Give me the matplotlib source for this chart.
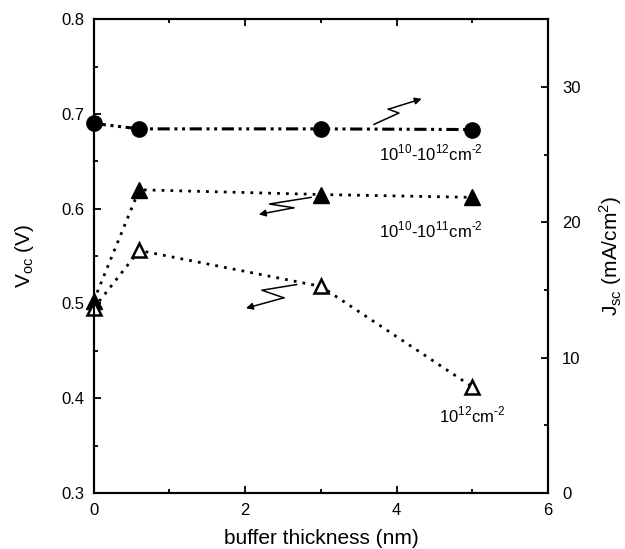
import matplotlib
matplotlib.use("Agg")
import matplotlib.pyplot as plt
from matplotlib.ticker import MultipleLocator

plt.rcParams['font.family'] = ['Liberation Sans', 'DejaVu Sans']
plt.rcParams['mathtext.fontset'] = 'custom'
plt.rcParams['mathtext.rm'] = 'Liberation Sans'

x = [0, 0.6, 3, 5]
jsc_all = [27.3, 26.9, 26.9, 26.85]          # circles, right axis (mA/cm2)
voc_low = [0.503, 0.620, 0.615, 0.612]       # filled triangles, 1e10-1e11
voc_high = [0.495, 0.556, 0.518, 0.412]      # open triangles, 1e12

fig = plt.figure(figsize=(6.25, 5.49), dpi=100)
ax = fig.add_axes([0.150, 0.102, 0.727, 0.863])
ax2 = ax.twinx()

ax.plot(x, voc_low, linestyle=(0, (1, 2.2)), color='black', lw=2.0,
        marker='^', ms=11, mfc='black', mec='black', clip_on=False, zorder=3)
ax.plot(x, voc_high, linestyle=(0, (1, 2.2)), color='black', lw=2.0,
        marker='^', ms=10, mfc='white', mec='black', mew=1.8, clip_on=False, zorder=3)
ax2.plot(x, jsc_all, linestyle=(0, (4, 1.5, 1, 1.5, 1, 1.5)), color='black', lw=2.2,
         marker='o', ms=11, mfc='black', mec='black', clip_on=False, zorder=3)

ax.set_xlim(0, 6)
ax.set_ylim(0.3, 0.8)
ax2.set_ylim(0, 35)

ax.xaxis.set_major_locator(MultipleLocator(2))
ax.xaxis.set_minor_locator(MultipleLocator(1))
ax.yaxis.set_major_locator(MultipleLocator(0.1))
ax.yaxis.set_minor_locator(MultipleLocator(0.05))
ax2.yaxis.set_major_locator(MultipleLocator(10))
ax2.yaxis.set_minor_locator(MultipleLocator(5))
ax.yaxis.set_major_formatter(plt.FuncFormatter(lambda v, p: f"{v:.1f}"))

ax.tick_params(axis='both', which='both', direction='in', top=True, right=False,
               labelsize=12, width=1.3, pad=7)
ax.tick_params(which='major', length=5)
ax.tick_params(which='minor', length=3)
ax2.tick_params(axis='y', which='both', direction='in', labelsize=12, width=1.3, pad=10)
ax2.tick_params(which='major', length=5)
ax2.tick_params(which='minor', length=3)
for a in (ax, ax2):
    for s in a.spines.values():
        s.set_linewidth(1.5)

ax.set_xlabel('buffer thickness (nm)', fontsize=15, labelpad=8)
ax.set_ylabel(r'V$_{\mathregular{oc}}$ (V)', fontsize=15, labelpad=18)
ax2.set_ylabel(r'J$_{\mathregular{sc}}$ (mA/cm$^{\mathregular{2}}$)', fontsize=15,
               labelpad=12)

# zigzag axis-indicating arrows
def zigzag(pts, axis):
    xs = [p[0] for p in pts]
    ys = [p[1] for p in pts]
    axis.plot(xs[:-1], ys[:-1], color='black', lw=1.1, zorder=4)
    axis.annotate('', xy=pts[-1], xytext=pts[-2],
                  arrowprops=dict(arrowstyle='-|>', color='black', lw=1.1,
                                  mutation_scale=10, shrinkA=0, shrinkB=0))

zigzag([(3.70, 0.689), (4.03, 0.701), (3.89, 0.705), (4.33, 0.716)], ax)
zigzag([(2.87, 0.612), (2.32, 0.605), (2.64, 0.601), (2.18, 0.594)], ax)
zigzag([(2.68, 0.520), (2.22, 0.514), (2.51, 0.506), (2.01, 0.495)], ax)

sup = lambda s: r'$^{\mathregular{' + s + '}}$'
lab1 = '10' + sup('10') + '-10' + sup('12') + 'cm' + sup('\u2010' + '2')
lab2 = '10' + sup('10') + '-10' + sup('11') + 'cm' + sup('\u2010' + '2')
lab3 = '10' + sup('12') + 'cm' + sup('\u2010' + '2')
ax.text(4.45, 0.659, lab1, ha='center', va='center', fontsize=12)
ax.text(4.45, 0.577, lab2, ha='center', va='center', fontsize=12)
ax.text(4.99, 0.382, lab3, ha='center', va='center', fontsize=12)

fig.savefig('out.png', dpi=100)
